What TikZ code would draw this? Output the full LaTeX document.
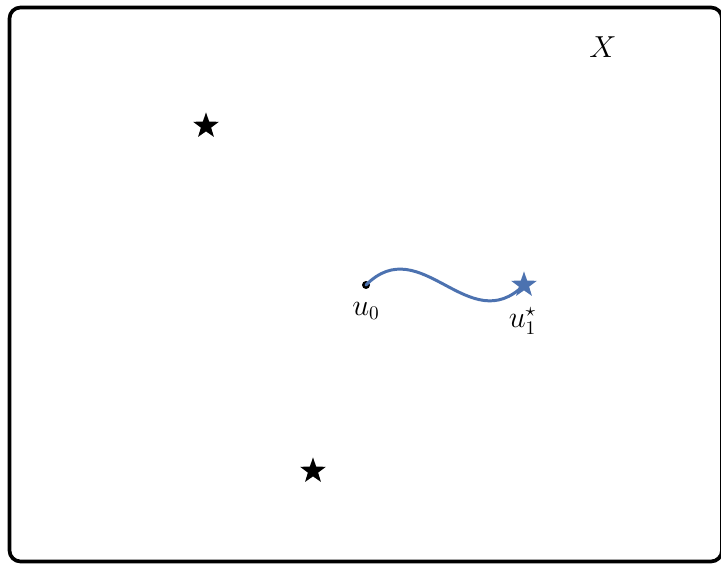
\documentclass[tikz,border=0pt]{standalone}
\usetikzlibrary{shapes.geometric}
\definecolor{curveblue}{RGB}{76,114,176}

\begin{document}
\begin{tikzpicture}[line cap=round,line join=round,every node/.style={inner sep=1pt},
    staricon/.style={star,star points=5,star point ratio=2.5,minimum size=0.54cm,inner sep=0pt,draw=none},
    lbl/.style={font=\fontsize{16}{19}\selectfont}]
  \def\sw{14.42}
  \def\sh{11.3}
  \useasboundingbox (0,0) rectangle (\sw,\sh);
  % frame
  \draw[line width=2.1pt,rounded corners=0.22cm] (0.19,0.07) rectangle (14.44,11.15);
  % targets
  \node[staricon,fill=black] (s1) at (4.12,8.78) {};
  \node[staricon,fill=black] (s2) at (6.26,1.88) {};
  \node[staricon,fill=curveblue] (s3) at (10.48,5.60) {};
  % start point and path
  \node[circle,fill=black,inner sep=0pt,minimum size=0.16cm] (u0) at (7.32,5.60) {};
  \draw[curveblue,line width=1.7pt] (u0.center) .. controls +(1.1,1.1) and +(-1.1,-1.1) .. (s3.center);
  % labels
  \node[lbl] (l0) at (7.32,5.08) {$u_0$};
  \node[lbl] (l1) at (10.45,4.88) {$u_1^\star$};
  \node[lbl] (lx) at (12.06,10.36) {$X$};
\end{tikzpicture}
\end{document}
